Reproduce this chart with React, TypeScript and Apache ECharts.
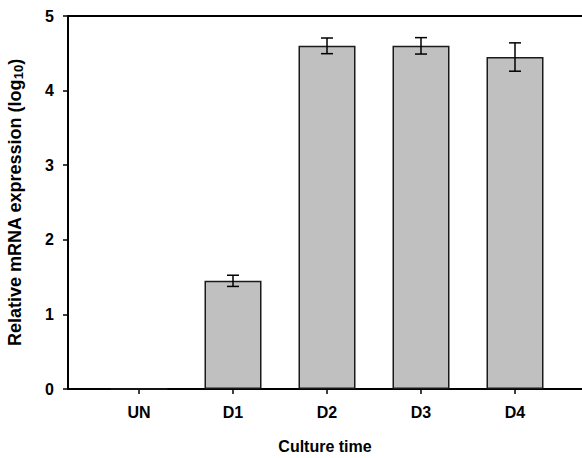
import React, { useEffect, useRef } from "react";
import * as echarts from "echarts";

const categories = ["UN", "D1", "D2", "D3", "D4"];
const values = [0, 1.45, 4.6, 4.6, 4.45];
const errors = [0, 0.075, 0.105, 0.11, 0.19];
const yTicks = [0, 1, 2, 3, 4, 5];

export default function App() {
  const ref = useRef<HTMLDivElement>(null);
  useEffect(() => {
    if (!ref.current) return;
    const chart = echarts.init(ref.current, undefined, { renderer: "svg" });
    const font = "Arial, 'Liberation Sans', sans-serif";
    const errData = values
      .map((v, i) => [i, v - errors[i], v + errors[i]])
      .filter((_, i) => errors[i] > 0);
    chart.setOption({
      animation: false,
      backgroundColor: "#fff",
      grid: [
        { left: 68, right: 0, top: 16, bottom: 69, outerBoundsMode: "none", containLabel: false },
        { left: 92, right: 20, top: 16, bottom: 69, outerBoundsMode: "none", containLabel: false },
      ],
      xAxis: [
        {
          type: "value",
          gridIndex: 0,
          min: 0,
          max: 1,
          position: "bottom",
          axisLine: { show: true, lineStyle: { color: "#000", width: 2 } },
          axisTick: { show: false },
          axisLabel: { show: false },
          splitLine: { show: false },
          name: "Culture time",
          nameLocation: "middle",
          nameGap: 49,
          nameTextStyle: { fontFamily: font, fontWeight: "bold", fontSize: 16, color: "#000" },
        },
        {
          type: "value",
          gridIndex: 0,
          min: 0,
          max: 1,
          position: "top",
          axisLine: { show: true, lineStyle: { color: "#000", width: 2 } },
          axisTick: { show: false },
          axisLabel: { show: false },
          splitLine: { show: false },
        },
        {
          type: "category",
          gridIndex: 1,
          data: categories,
          position: "bottom",
          axisLine: { show: true, lineStyle: { color: "#000", width: 2 } },
          axisTick: { show: true, alignWithLabel: true, length: 5, lineStyle: { color: "#000", width: 1.5 } },
          axisLabel: { fontFamily: font, fontWeight: "bold", fontSize: 16, color: "#000", margin: 15 },
          splitLine: { show: false },
        },
      ],
      yAxis: [
        {
          type: "value",
          gridIndex: 0,
          min: yTicks[0],
          max: yTicks[yTicks.length - 1],
          interval: 1,
          axisLine: { show: true, lineStyle: { color: "#000", width: 2 } },
          axisTick: { show: true, length: 5, lineStyle: { color: "#000", width: 1.5 } },
          axisLabel: { fontFamily: font, fontWeight: "bold", fontSize: 16, color: "#000", margin: 14 },
          splitLine: { show: false },
          name: "{a|Relative mRNA expression (log}{b|10}{a|)}",
          nameLocation: "middle",
          nameGap: 43,
          nameTextStyle: {
            rich: {
              a: { fontFamily: font, fontWeight: "bold", fontSize: 18, color: "#000", lineHeight: 21 },
              b: { fontFamily: font, fontWeight: "bold", fontSize: 13, color: "#000", verticalAlign: "bottom", lineHeight: 21, padding: [7, 0, 0, 0] },
            },
          },
        },
        {
          type: "value",
          gridIndex: 1,
          min: 0,
          max: 5,
          show: false,
        },
      ],
      series: [
        {
          type: "bar",
          xAxisIndex: 2,
          yAxisIndex: 1,
          data: values,
          barWidth: 57,
          itemStyle: { color: "#c0c0c0", borderColor: "#1a1a1a", borderWidth: 1.5 },
        },
        {
          type: "custom",
          xAxisIndex: 2,
          yAxisIndex: 1,
          data: errData,
          z: 10,
          renderItem: (params: any, api: any) => {
            const x = api.value(0);
            const lo = api.coord([x, api.value(1)]);
            const hi = api.coord([x, api.value(2)]);
            const hw = 6;
            const style = { stroke: "#000", lineWidth: 1.5 };
            return {
              type: "group",
              children: [
                { type: "line", shape: { x1: lo[0], y1: lo[1], x2: hi[0], y2: hi[1] }, style },
                { type: "line", shape: { x1: lo[0] - hw, y1: lo[1], x2: lo[0] + hw, y2: lo[1] }, style },
                { type: "line", shape: { x1: hi[0] - hw, y1: hi[1], x2: hi[0] + hw, y2: hi[1] }, style },
              ],
            };
          },
        },
      ],
    });
    return () => chart.dispose();
  }, []);
  return <div ref={ref} style={{ width: 582, height: 458, position: "absolute", left: 0, top: 0 }} />;
}
